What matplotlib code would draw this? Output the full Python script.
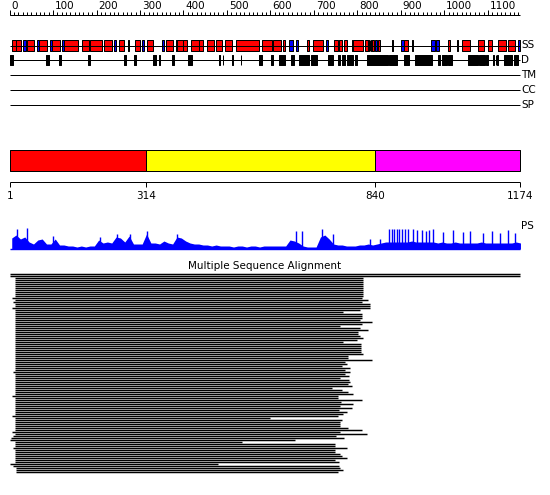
import numpy as np
import matplotlib
matplotlib.use('Agg')
import matplotlib.pyplot as plt

SEQ_LEN = 1174

# secondary structure (residue ranges)
helix = [(5, 15), (15, 26), (41, 56), (68, 85), (97, 116), (125, 158), (166, 182), (184, 212),
         (217, 235), (252, 264), (288, 300), (315, 329), (359, 375), (386, 400), (400, 409),
         (417, 436), (436, 446), (453, 470), (475, 488), (495, 511), (521, 574), (580, 603),
         (607, 624), (630, 634), (683, 689), (699, 722), (747, 756), (758, 765), (770, 777),
         (791, 814), (818, 824), (825, 827), (828, 830), (831, 833), (833, 838), (847, 853),
         (880, 882), (908, 916), (926, 928), (1009, 1013), (1028, 1032), (1040, 1059),
         (1078, 1090), (1101, 1109), (1123, 1141), (1147, 1162)]
strand = [(32, 37), (62, 68), (93, 97), (120, 125), (241, 245), (272, 275), (304, 309),
          (350, 355), (382, 386), (643, 651), (658, 664), (727, 733), (787, 791), (841, 844),
          (900, 908), (969, 978), (980, 987), (1170, 1174)]

# disordered regions
disorder = [(1, 7), (84, 91), (114, 118), (180, 185), (263, 267), (286, 290), (329, 337),
            (344, 345), (373, 378), (410, 420), (482, 483), (490, 491), (511, 515), (532, 533),
            (574, 580), (601, 607), (620, 634), (648, 654), (666, 689), (693, 707), (733, 743),
            (756, 760), (764, 771), (775, 791), (794, 798), (821, 871), (873, 890), (908, 919),
            (932, 971), (986, 990), (995, 1005), (1009, 1017), (1055, 1078), (1080, 1094),
            (1096, 1101), (1112, 1113), (1118, 1119), (1122, 1123), (1138, 1155), (1159, 1170)]

# domain boundaries
domain_bounds = [1, 314, 840, 1174]
domain_colors = ['#ff0000', '#ffff00', '#ff00ff']

# profile score, 10-residue bins
ps_base = [11, 14, 10, 12, 7, 5, 9, 10, 5, 5, 10, 4, 4, 3, 3, 2, 3, 2, 3, 3,
           9, 6, 7, 6, 12, 11, 7, 13, 5, 5, 5, 15, 6, 6, 5, 8, 6, 5, 12, 11,
           8, 6, 5, 5, 4, 4, 3, 4, 3, 3, 3, 2, 3, 3, 2, 3, 3, 2, 3, 3,
           3, 3, 3, 3, 9, 8, 6, 3, 2, 2, 2, 12, 14, 10, 5, 4, 4, 3, 3, 3,
           4, 4, 5, 4, 5, 6, 7, 7, 7, 7, 7, 7, 8, 7, 7, 7, 7, 7, 6, 7,
           6, 6, 7, 6, 6, 6, 6, 6, 7, 6, 6, 6, 6, 6, 6, 6, 7, 6]
spike_pos = [18, 40, 100, 208, 247, 277, 316, 385, 659, 673, 719, 744, 829, 852,
             873, 880, 884, 891, 896, 903, 909, 916, 928, 937, 949, 958, 965, 974,
             997, 1020, 1043, 1060, 1089, 1110, 1128, 1146, 1162]
spike_val = [20, 21, 13, 12, 15, 15, 18, 15, 18, 18, 20, 15, 10, 10,
             20, 20, 20, 20, 20, 20, 20, 20, 20, 19, 19, 18, 19, 20,
             17, 19, 17, 18, 16, 18, 16, 19, 16]

# alignment hits (start, end residue)
msa_start = [1, 1, 13, 13, 13, 13, 13, 13, 13, 13, 13, 13, 5, 13, 9, 13, 13, 5, 13, 13,
             13, 13, 13, 13, 13, 13, 13, 13, 13, 13, 13, 13, 13, 13, 13, 13, 13, 13, 13, 13,
             13, 13, 13, 13, 13, 13, 13, 13, 13, 9, 13, 13, 13, 13, 13, 13, 13, 13, 13, 13,
             13, 5, 13, 13, 13, 13, 13, 13, 13, 13, 13, 5, 13, 13, 13, 13, 13, 13, 13, 5,
             13, 7, 3, 1, 13, 13, 13, 9, 13, 13, 13, 13, 13, 13, 13, 1, 7, 15, 15, 15]
msa_end = [1174, 1174, 813, 813, 813, 813, 813, 813, 813, 813, 813, 813, 810, 824, 810, 829, 829, 829, 806, 767,
           810, 810, 810, 806, 833, 810, 761, 806, 824, 802, 802, 806, 813, 799, 767, 808, 808, 808, 808, 808,
           813, 779, 779, 833, 771, 776, 764, 783, 771, 783, 771, 781, 760, 781, 783, 779, 788, 742, 765, 779,
           790, 756, 756, 810, 762, 790, 760, 788, 758, 776, 767, 756, 599, 765, 760, 760, 760, 779, 810, 760,
           822, 751, 769, 656, 535, 749, 749, 776, 749, 749, 760, 765, 776, 749, 758, 480, 758, 760, 767, 756]

track_rows = {'SS': 45.5, 'D': 60, 'TM': 75, 'CC': 90, 'SP': 105}

PX = 0.4348  # pixels per residue
X0 = 9.57

fig = plt.figure(figsize=(5.5, 4.95), dpi=100)
ax = fig.add_axes([0, 0, 1, 1])
ax.set_xlim(-X0 / PX, (550 - X0) / PX)
ax.set_ylim(495, 0)
ax.axis('off')

lw = 0.72
fs = 7.5

# top ruler
ax.hlines(15, 0, SEQ_LEN, color='black', lw=lw)
minor = np.arange(0, SEQ_LEN, 10)
ax.vlines(minor, 12, 15, color='black', lw=lw)
major = np.arange(0, SEQ_LEN, 100)
ax.vlines(major, 10, 15, color='black', lw=lw)
for m in major:
    ax.text(m + 4, 6, str(m), fontsize=fs, ha='left', va='center')

# SS and D tracks
y = track_rows['SS']
ax.hlines(y, 1, SEQ_LEN, color='black', lw=lw)
ax.broken_barh([(s, e - s) for s, e in helix], (y - 5.5, 11), facecolors='#ff0000',
               edgecolors='black', lw=lw)
ax.broken_barh([(s, e - s) for s, e in strand], (y - 5.5, 11), facecolors='#0000ff',
               edgecolors='black', lw=lw)
y = track_rows['D']
ax.hlines(y, 1, SEQ_LEN, color='black', lw=lw)
ax.broken_barh([(s, e - s) for s, e in disorder], (y - 5, 10), facecolors='black',
               edgecolors='black', lw=lw)
for name in ['TM', 'CC', 'SP']:
    ax.hlines(track_rows[name], 1, SEQ_LEN, color='black', lw=lw)
for name, y in track_rows.items():
    ax.text(SEQ_LEN + 2, y, name, fontsize=fs, ha='left', va='center')

# domain bar
for i, c in enumerate(domain_colors):
    ax.broken_barh([(domain_bounds[i], domain_bounds[i + 1] - domain_bounds[i])], (150, 21),
                   facecolors=c, edgecolors='black', lw=lw)
ax.hlines(182, 1, SEQ_LEN, color='black', lw=lw)
ax.vlines(domain_bounds, 182, 187, color='black', lw=lw)
for b in domain_bounds:
    ax.text(b, 196, str(b), fontsize=fs, ha='center', va='center')

# profile
ps_x = np.arange(len(ps_base)) * 10 + 5
base = 249
ax.fill_between(ps_x, base, base - np.array(ps_base), color='#0000ff', lw=0)
ax.vlines(spike_pos, base, base - np.array(spike_val), color='#0000ff', lw=1.0)
ax.hlines(base, 1, SEQ_LEN, color='#0000ff', lw=1.0)
ax.text(SEQ_LEN + 2, 226, 'PS', fontsize=fs, ha='left', va='center')

# alignment
ax.text(SEQ_LEN / 2, 266, 'Multiple Sequence Alignment', fontsize=fs, ha='center', va='center')
msa_y = 274 + 2 * np.arange(len(msa_start))
ax.hlines(msa_y, msa_start, msa_end, color='black', lw=1.05)

fig.savefig('out.png', dpi=100)
